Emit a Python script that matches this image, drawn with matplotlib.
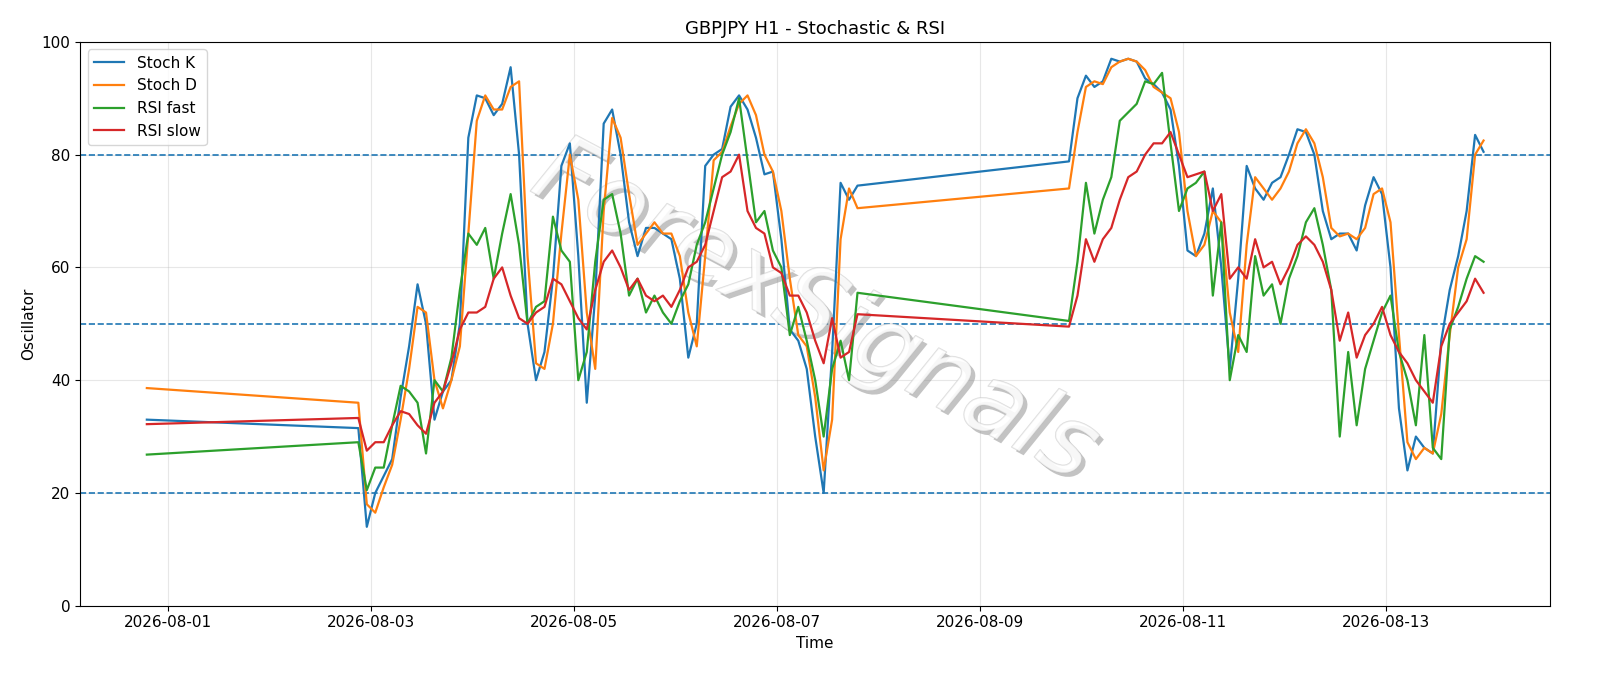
import matplotlib
matplotlib.use("Agg")
import matplotlib.pyplot as plt
import matplotlib.dates as mdates
import matplotlib.patheffects as pe
import pandas as pd

# segment starts (hourly data shown at 2-hour samples)
seg_a_time = ["2026-07-31 19:00"]
seg_b_start = "2026-08-02 21:00"
seg_c_start = "2026-08-09 21:00"

k_a = [33.0]; d_a = [38.6]; rf_a = [26.8]; rs_a = [32.2]

k_b = [31.5, 14, 20, 23, 26, 37, 46, 57, 50, 33, 38, 40, 50, 83, 90.5, 90, 87, 89, 95.5, 80,
       50, 40, 45, 58, 78, 82, 62, 36, 55, 85.5, 88, 80, 68, 62, 67, 67, 66, 65, 58, 44,
       50, 78, 80, 81, 88.5, 90.5, 88, 83, 76.5, 77, 65, 49, 47, 42, 30, 20, 45, 75, 72, 74.5]
d_b = [36, 18, 16.5, 21, 25, 33, 42, 53, 52, 40, 35, 40, 46, 66, 86, 90.5, 88, 88, 92, 93,
       62, 43, 42, 50, 66, 80, 72, 52, 42, 70, 86.5, 83, 73, 64, 66, 68, 66, 66, 62, 52,
       46, 62, 79, 80.5, 85, 89, 90.5, 87, 80, 77, 70, 58, 48, 46, 37, 24, 33, 65, 74, 70.5]
rf_b = [29, 20.5, 24.5, 24.5, 32, 39, 38, 36, 27, 40, 38, 44, 56, 66, 64, 67, 58, 66, 73, 64,
        50, 53, 54, 69, 63, 61, 40, 45, 61, 72, 73, 66, 55, 58, 52, 55, 52, 50, 54, 57,
        64, 68, 74, 80, 84, 90, 79, 68, 70, 63, 60, 48, 53, 47, 40, 30, 42, 47, 40, 55.5]
rs_b = [33.3, 27.5, 29, 29, 32, 34.5, 34, 32, 30.5, 36, 38, 43, 49, 52, 52, 53, 58, 60, 55, 51,
        50, 52, 53, 58, 57, 54, 51, 49, 56, 61, 63, 60, 56, 58, 55, 54, 55, 53, 56, 60,
        61, 64, 70, 76, 77, 80, 70, 67, 66, 60, 59, 55, 55, 52, 47, 43, 51, 44, 45, 51.7]

k_c = [78.8, 90, 94, 92, 93, 97, 96.5, 97, 96.5, 93.5, 92.5, 91, 88, 78, 63, 62, 66, 74, 60, 42,
       58, 78, 74, 72, 75, 76, 80, 84.5, 84, 80, 70, 65, 66, 66, 63, 71, 76, 73, 60, 35,
       24, 30, 28, 27, 47, 56, 62, 70, 83.5, 80.5]
d_c = [74, 84, 92, 93, 92.5, 95.5, 96.5, 97, 96.5, 95, 92, 91, 90, 84, 70, 62, 64, 70, 68, 52,
       45, 64, 76, 74, 72, 74, 77, 82, 84.5, 82, 76, 67, 65.5, 66, 65, 67, 73, 74, 68, 48,
       29, 26, 28, 27, 34, 48, 60, 65, 80, 82.5]
rf_c = [50.5, 61, 75, 66, 72, 76, 86, 87.5, 89, 93, 92.5, 94.5, 82, 70, 74, 75, 77, 55, 68, 40,
        48, 45, 62, 55, 57, 50, 58, 62, 68, 70.5, 64, 56, 30, 45, 32, 42, 47, 52, 55, 45,
        40, 32, 48, 28, 26, 49, 53, 58, 62, 61]
rs_c = [49.5, 55, 65, 61, 65, 67, 72, 76, 77, 80, 82, 82, 84, 80, 76, 76.5, 77, 70, 73, 58,
        60, 58, 65, 60, 61, 57, 60, 64, 65.5, 64, 61, 56, 47, 52, 44, 48, 50, 53, 48, 45,
        43, 40, 38, 36, 46, 50, 52, 54, 58, 55.5]

t = (list(pd.to_datetime(seg_a_time))
     + list(pd.date_range(seg_b_start, periods=len(k_b), freq="2h"))
     + list(pd.date_range(seg_c_start, periods=len(k_c), freq="2h")))
K = k_a + k_b + k_c
D = d_a + d_b + d_c
RF = rf_a + rf_b + rf_c
RS = rs_a + rs_b + rs_c

fig = plt.figure(figsize=(16, 6.86), dpi=100)
ax = fig.add_axes([0.05, 0.117, 0.919, 0.822])
ax.plot(t, K, color="C0", lw=1.6, label="Stoch K", zorder=3)
ax.plot(t, D, color="C1", lw=1.6, label="Stoch D", zorder=3)
ax.plot(t, RF, color="C2", lw=1.6, label="RSI fast", zorder=3)
ax.plot(t, RS, color="C3", lw=1.6, label="RSI slow", zorder=3)
for lvl in (20, 50, 80):
    ax.axhline(lvl, color="C0", ls="--", lw=1.2)
ax.set_ylim(0, 100)
ax.grid(True, alpha=0.3)
ax.xaxis.set_major_locator(mdates.DayLocator(bymonthday=[1, 3, 5, 7, 9, 11, 13]))
ax.xaxis.set_major_formatter(mdates.DateFormatter("%Y-%m-%d"))
ax.tick_params(labelsize=11)
ax.set_xlabel("Time", fontsize=11)
ax.set_ylabel("Oscillator", fontsize=11)
ax.set_title("GBPJPY H1 - Stochastic & RSI", fontsize=13)
ax.legend(loc="upper left", fontsize=11)
ax.text(0.5, 0.52, "ForexSignals", transform=ax.transAxes, fontsize=70, style="italic",
        color="white", alpha=0.5, rotation=-28, ha="center", va="center", zorder=2,
        path_effects=[pe.withSimplePatchShadow(offset=(3, -3), shadow_rgbFace="#888888", alpha=0.5),
                      pe.Stroke(linewidth=1.0, foreground="#bbbbbb"), pe.Normal()])
fig.savefig("out.png")
